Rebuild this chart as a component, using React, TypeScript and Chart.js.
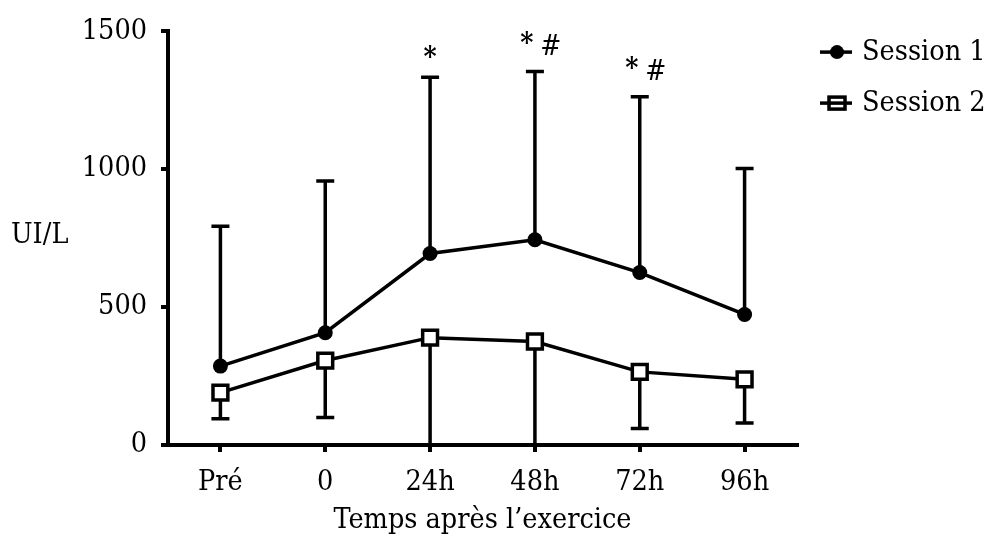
import React, { useEffect, useRef } from 'react';
import { Chart, registerables } from 'chart.js';

Chart.register(...registerables);

const categories = ['Pré', '0', '24h', '48h', '72h', '96h'];
const session1Mean = [286, 407, 694, 744, 625, 473];
const session1Upper = [793, 957, 1333, 1354, 1262, 1002];
const session2Mean = [190, 306, 389, 375, 265, 238];
const session2Lower = [95, 100, 0, 0, 60, 80];
const starMarks = ['', '', '*', '*', '*', ''];
const hashMarks = ['', '', '', '#', '#', ''];
const yTicks = [0, 500, 1000, 1500];
const seriesNames = ['Session 1', 'Session 2'];
const xTitle = 'Temps après l’exercice';
const yTitle = 'UI/L';

const FONT = '"DejaVu Serif Condensed", "DejaVu Serif", serif';
const FS = 28.5;

const errorBarPlugin = {
  id: 'errorBars',
  beforeDatasetsDraw(chart: any) {
    const { ctx, scales } = chart;
    const x = scales.x;
    const y = scales.y;
    ctx.save();
    ctx.strokeStyle = '#000';
    ctx.lineWidth = 3.5;
    ctx.lineCap = 'butt';
    const cap = 9;
    categories.forEach((_, i) => {
      const px = x.getPixelForValue(i);
      const a0 = y.getPixelForValue(session1Mean[i]);
      const a1 = y.getPixelForValue(session1Upper[i]);
      ctx.beginPath();
      ctx.moveTo(px, a0);
      ctx.lineTo(px, a1);
      ctx.moveTo(px - cap, a1);
      ctx.lineTo(px + cap, a1);
      ctx.stroke();
      const b0 = y.getPixelForValue(session2Mean[i]);
      const b1 = y.getPixelForValue(session2Lower[i]);
      ctx.beginPath();
      ctx.moveTo(px, b0);
      ctx.lineTo(px, b1);
      ctx.moveTo(px - cap, b1);
      ctx.lineTo(px + cap, b1);
      ctx.stroke();
    });
    ctx.restore();
  },
};

const decorPlugin = {
  id: 'decor',
  afterDraw(chart: any) {
    const { ctx, scales, chartArea } = chart;
    const x = scales.x;
    const y = scales.y;
    ctx.save();
    ctx.fillStyle = '#000';
    ctx.textAlign = 'center';
    ctx.textBaseline = 'middle';
    // significance marks
    categories.forEach((_, i) => {
      const px = x.getPixelForValue(i);
      const top = y.getPixelForValue(session1Upper[i]);
      const hasHash = hashMarks[i] !== '';
      if (starMarks[i]) {
        ctx.font = `bold 28px ${FONT}`;
        ctx.fillText(starMarks[i], px + (hasHash ? -8 : 0), top + (hasHash ? -27 : -18));
      }
      if (hasHash) {
        ctx.font = `28px ${FONT}`;
        ctx.fillText(hashMarks[i], px + 16, top - 24);
      }
    });
    // axis titles
    ctx.font = `${FS}px ${FONT}`;
    ctx.fillText(xTitle, (chartArea.left + chartArea.right) / 2, chartArea.bottom + 76);
    ctx.textAlign = 'left';
    ctx.fillText(yTitle, chartArea.left - 157, (chartArea.top + chartArea.bottom) / 2 - 2);
    // legend
    const lx = chartArea.right + 23;
    const rows = [chartArea.top + 21, chartArea.top + 72];
    ctx.strokeStyle = '#000';
    ctx.lineWidth = 3.5;
    rows.forEach((ry, k) => {
      ctx.beginPath();
      ctx.moveTo(lx, ry);
      ctx.lineTo(lx + 32, ry);
      ctx.stroke();
      const mx = lx + 17;
      if (k === 0) {
        ctx.beginPath();
        ctx.arc(mx, ry, 7, 0, Math.PI * 2);
        ctx.fill();
      } else {
        ctx.fillStyle = '#fff';
        ctx.fillRect(mx - 8, ry - 6, 16, 12);
        ctx.fillStyle = '#000';
        ctx.strokeRect(mx - 8, ry - 6, 16, 12);
        ctx.beginPath();
        ctx.moveTo(mx - 8, ry);
        ctx.lineTo(mx + 8, ry);
        ctx.stroke();
      }
      ctx.font = `${FS}px ${FONT}`;
      ctx.textAlign = 'left';
      ctx.textBaseline = 'middle';
      ctx.fillText(seriesNames[k], lx + 42, ry);
    });
    ctx.restore();
  },
};

export default function App() {
  const ref = useRef<HTMLCanvasElement>(null);
  useEffect(() => {
    if (!ref.current) return;
    const chart = new Chart(ref.current, {
      type: 'line',
      data: {
        labels: categories,
        datasets: [
          {
            label: seriesNames[0],
            data: session1Mean,
            borderColor: '#000',
            borderWidth: 3.5,
            pointStyle: 'circle',
            pointRadius: 7.5,
            pointBackgroundColor: '#000',
            pointBorderColor: '#000',
            pointBorderWidth: 0,
            tension: 0,
          },
          {
            label: seriesNames[1],
            data: session2Mean,
            borderColor: '#000',
            borderWidth: 3.5,
            pointStyle: 'rect',
            pointRadius: 10.5,
            pointBackgroundColor: '#fff',
            pointBorderColor: '#000',
            pointBorderWidth: 3.5,
            tension: 0,
          },
        ],
      },
      options: {
        animation: false,
        responsive: false,
        maintainAspectRatio: false,
        layout: { padding: { top: 25, right: 189, bottom: 0, left: 0 } },
        plugins: { legend: { display: false }, tooltip: { enabled: false } },
        scales: {
          x: {
            type: 'category',
            offset: true,
            border: { display: true, color: '#000', width: 4 },
            grid: { display: true, drawOnChartArea: false, drawTicks: true, tickLength: 7, color: '#000', lineWidth: 4, offset: false },
            ticks: { color: '#000', font: { family: FONT, size: FS }, padding: 13, maxRotation: 0 },
            afterFit: (s: any) => { s.height = 97; },
          },
          y: {
            type: 'linear',
            min: 0,
            max: 1500,
            border: { display: true, color: '#000', width: 4 },
            grid: { display: true, drawOnChartArea: false, drawTicks: true, tickLength: 7, color: '#000', lineWidth: 4 },
            ticks: { color: '#000', font: { family: FONT, size: FS }, padding: 14, callback: (v: any) => String(v) },
            afterBuildTicks: (s: any) => { s.ticks = yTicks.map((v) => ({ value: v })); },
            afterFit: (s: any) => { s.width = 168; },
          },
        },
      },
      plugins: [errorBarPlugin, decorPlugin],
    });
    return () => chart.destroy();
  }, []);
  return (
    <div style={{ position: 'fixed', left: 0, top: 0, width: 986, height: 542, background: '#fff' }}>
      <canvas ref={ref} width={986} height={542} style={{ width: 986, height: 542 }} />
    </div>
  );
}
